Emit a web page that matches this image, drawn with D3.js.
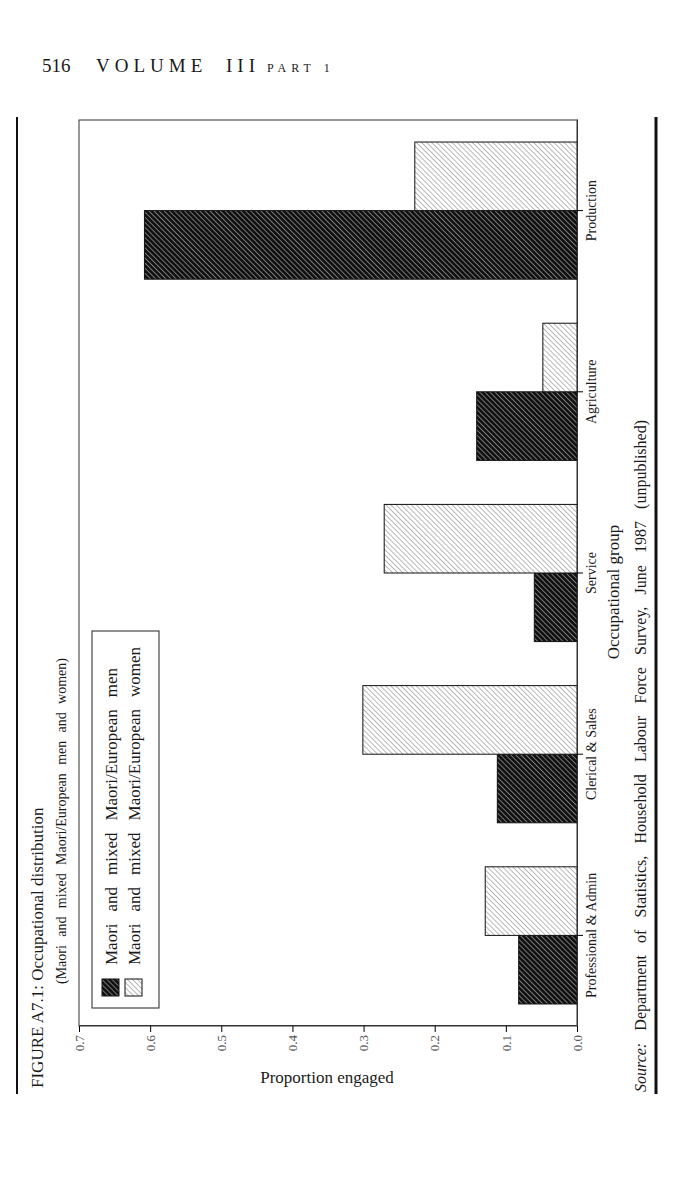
<!DOCTYPE html>
<html lang="en">
<head>
    <meta charset="UTF-8">
    <title>Figure A7.1: Occupational distribution</title>
    <script src="https://cdnjs.cloudflare.com/ajax/libs/d3/7.8.5/d3.min.js"></script>
    <style>
        body {
            margin: 0;
            background: #fff;
        }
        svg text {
            font-family: "Liberation Serif", "DejaVu Serif", serif;
            fill: #1a1a1a;
        }
        .tick-value text {
            font-size: 13px;
            fill: #555;
        }
        .tick-cat text {
            font-size: 14px;
        }
    </style>
</head>
<body>
    <div id="chart"></div>

    <script>
        // values
        const categories = ["Professional & Admin", "Clerical & Sales", "Service", "Agriculture", "Production"];
        const seriesKeys = ["men", "women"];
        const seriesNames = ["Maori and mixed Maori/European men", "Maori and mixed Maori/European women"];
        const menValues = [0.082, 0.112, 0.060, 0.141, 0.608];
        const womenValues = [0.129, 0.301, 0.271, 0.048, 0.228];
        const valueTicks = [0, 0.1, 0.2, 0.3, 0.4, 0.5, 0.6, 0.7];

        const W = 700, H = 1204;

        const svg = d3.select("#chart")
            .append("svg")
            .attr("width", W)
            .attr("height", H);

        // hatching patterns
        const defs = svg.append("defs");
        function hatch(id, bg, fg, sw) {
            const p = defs.append("pattern")
                .attr("id", id)
                .attr("patternUnits", "userSpaceOnUse")
                .attr("width", 3.6)
                .attr("height", 3.6)
                .attr("patternTransform", "rotate(45)");
            p.append("rect").attr("width", 3.6).attr("height", 3.6).attr("fill", bg);
            p.append("line")
                .attr("x1", 0).attr("y1", 0).attr("x2", 0).attr("y2", 3.6)
                .attr("stroke", fg)
                .attr("stroke-width", sw);
        }
        hatch("hatchDark", "#111", "#d8d8d8", 1.0);
        hatch("hatchLight", "#fff", "#666", 0.9);
        const fills = { men: "url(#hatchDark)", women: "url(#hatchLight)" };

        // header of the book page
        const header = svg.append("text")
            .attr("x", 42)
            .attr("y", 72)
            .style("font-size", "19px");
        header.append("tspan").text("516");
        header.append("tspan").attr("x", 96).style("letter-spacing", "5px").text("VOLUME");
        header.append("tspan").attr("x", 226).style("letter-spacing", "5px").text("III");
        header.append("tspan").attr("x", 267).style("font-size", "12px").style("letter-spacing", "5px").text("PART 1");

        // page rules
        svg.append("line")
            .attr("x1", 17).attr("x2", 17).attr("y1", 117).attr("y2", 1094)
            .attr("stroke", "#111").attr("stroke-width", 2);
        svg.append("line")
            .attr("x1", 656).attr("x2", 656).attr("y1", 117).attr("y2", 1094)
            .attr("stroke", "#111").attr("stroke-width", 3);

        // the figure is printed sideways: draw it in a rotated frame
        // local (x, y) -> screen (y, H - x)
        const page = svg.append("g")
            .attr("transform", `translate(0,${H}) rotate(-90)`);

        const margin = { left: 178, top: 79 };
        const width = 906;
        const height = 498;

        const chart = page.append("g")
            .attr("transform", `translate(${margin.left},${margin.top})`);

        const x0 = d3.scaleBand()
            .domain(categories)
            .range([0, width])
            .paddingInner(0.243)
            .paddingOuter(0.1215);

        const x1 = d3.scaleBand()
            .domain(seriesKeys)
            .range([0, x0.bandwidth()]);

        const y = d3.scaleLinear()
            .domain([0, 0.7])
            .range([height, 0]);

        chart.append("rect")
            .attr("width", width)
            .attr("height", height)
            .attr("fill", "none")
            .attr("stroke", "#333")
            .attr("stroke-width", 1);

        const rows = categories.map((c, i) => ({ cat: c, men: menValues[i], women: womenValues[i] }));

        chart.selectAll(".grp")
            .data(rows)
            .enter()
            .append("g")
            .attr("class", "grp")
            .attr("transform", d => `translate(${x0(d.cat)},0)`)
            .selectAll("rect")
            .data(d => seriesKeys.map(k => ({ key: k, value: d[k] })))
            .enter()
            .append("rect")
            .attr("x", d => x1(d.key))
            .attr("y", d => y(d.value))
            .attr("width", x1.bandwidth())
            .attr("height", d => height - y(d.value))
            .attr("fill", d => fills[d.key])
            .attr("stroke", "#111")
            .attr("stroke-width", 1);

        const catAxis = chart.append("g")
            .attr("class", "tick-cat")
            .attr("transform", `translate(0,${height})`)
            .call(d3.axisBottom(x0).tickSize(6).tickSizeOuter(0).tickPadding(3));
        catAxis.select(".domain").attr("stroke", "#333");

        const valAxis = chart.append("g")
            .attr("class", "tick-value")
            .call(d3.axisLeft(y).tickValues(valueTicks).tickFormat(d3.format(".1f")).tickSize(6).tickSizeOuter(0).tickPadding(3));
        valAxis.select(".domain").attr("stroke", "#333");

        chart.selectAll(".tick text").attr("font-family", null);

        // axis titles
        page.append("text")
            .attr("transform", `translate(${H - 1083},327) rotate(90)`)
            .attr("text-anchor", "middle")
            .style("font-size", "17px")
            .text("Proportion engaged");

        page.append("text")
            .attr("x", H - 592)
            .attr("y", 619)
            .attr("text-anchor", "middle")
            .style("font-size", "17px")
            .text("Occupational group");

        // stretch word gaps so a line spans a given length
        function spread(sel, target) {
            const gaps = sel.text().split(" ").length - 1;
            const len = sel.node().getComputedTextLength();
            if (gaps > 0 && len < target) sel.style("word-spacing", ((target - len) / gaps) + "px");
        }

        // title block
        page.append("text")
            .attr("x", H - 1088)
            .attr("y", 43)
            .style("font-size", "17px")
            .text("FIGURE A7.1: Occupational distribution");

        const sub = page.append("text")
            .attr("x", H - 984)
            .attr("y", 66)
            .style("font-size", "14px")
            .text("(Maori and mixed Maori/European men and women)");
        spread(sub, 326);

        // source line
        const src = page.append("text")
            .attr("x", H - 1092)
            .attr("y", 646)
            .style("font-size", "16px");
        src.append("tspan").style("font-style", "italic").text("Source:");
        src.append("tspan").text(" Department of Statistics, Household Labour Force Survey, June 1987 (unpublished)");
        spread(src, 672);

        // legend
        const legend = page.append("g");
        legend.append("rect")
            .attr("x", H - 1008)
            .attr("y", 92)
            .attr("width", 377)
            .attr("height", 67)
            .attr("fill", "#fff")
            .attr("stroke", "#222")
            .attr("stroke-width", 1);

        const legendTargets = [297, 318];
        seriesKeys.forEach((k, i) => {
            const cy = 111 + i * 23;
            legend.append("rect")
                .attr("x", H - 996)
                .attr("y", cy - 9)
                .attr("width", 17)
                .attr("height", 17)
                .attr("fill", fills[k])
                .attr("stroke", "#111");
            const t = legend.append("text")
                .attr("x", H - 965)
                .attr("y", cy + 6)
                .style("font-size", "17px")
                .text(seriesNames[i]);
            spread(t, legendTargets[i]);
        });
    </script>
</body>
</html>
